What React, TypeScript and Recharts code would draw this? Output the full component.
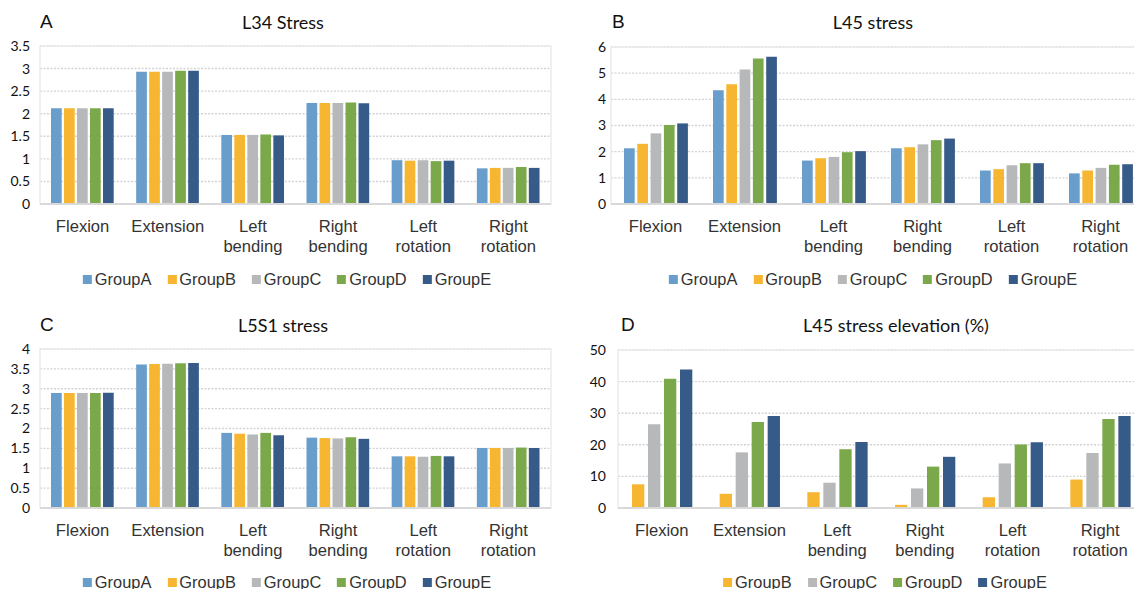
import { BarChart, Bar, XAxis, YAxis, CartesianGrid, ReferenceArea } from "recharts";

const categories = ["Flexion", "Extension", "Left bending", "Right bending", "Left rotation", "Right rotation"];
const groups = ["GroupA", "GroupB", "GroupC", "GroupD", "GroupE"];

// A: L34 stress
const l34GroupA = [2.12, 2.93, 1.53, 2.24, 0.97, 0.79];
const l34GroupB = [2.12, 2.93, 1.53, 2.24, 0.96, 0.8];
const l34GroupC = [2.12, 2.93, 1.53, 2.24, 0.97, 0.8];
const l34GroupD = [2.12, 2.95, 1.54, 2.25, 0.95, 0.82];
const l34GroupE = [2.12, 2.95, 1.52, 2.23, 0.96, 0.8];

// B: L45 stress
const l45GroupA = [2.13, 4.35, 1.66, 2.13, 1.28, 1.17];
const l45GroupB = [2.3, 4.58, 1.75, 2.17, 1.33, 1.28];
const l45GroupC = [2.7, 5.14, 1.8, 2.28, 1.48, 1.38];
const l45GroupD = [3.02, 5.56, 1.98, 2.44, 1.56, 1.5];
const l45GroupE = [3.08, 5.63, 2.02, 2.5, 1.56, 1.52];

// C: L5S1 stress
const l5s1GroupA = [2.89, 3.61, 1.89, 1.77, 1.3, 1.51];
const l5s1GroupB = [2.89, 3.62, 1.87, 1.76, 1.3, 1.51];
const l5s1GroupC = [2.89, 3.63, 1.85, 1.75, 1.29, 1.51];
const l5s1GroupD = [2.89, 3.64, 1.89, 1.78, 1.31, 1.52];
const l5s1GroupE = [2.9, 3.65, 1.83, 1.74, 1.3, 1.51];

// D: L45 stress elevation (%)
const elevGroupB = [7.5, 4.5, 5.0, 1.0, 3.4, 9.0];
const elevGroupC = [26.5, 17.6, 8.0, 6.2, 14.1, 17.4];
const elevGroupD = [40.9, 27.2, 18.6, 13.1, 20.1, 28.2];
const elevGroupE = [43.8, 29.1, 20.9, 16.2, 20.8, 29.1];

const ticksA = [0, 0.5, 1, 1.5, 2, 2.5, 3, 3.5];
const ticksB = [0, 1, 2, 3, 4, 5, 6];
const ticksC = [0, 0.5, 1, 1.5, 2, 2.5, 3, 3.5, 4];
const ticksD = [0, 10, 20, 30, 40, 50];

const COLORS: Record<string, string> = {
  GroupA: "#699DCB",
  GroupB: "#F6B631",
  GroupC: "#B7B8BA",
  GroupD: "#7BA84A",
  GroupE: "#375B88",
};

const SANS = "'Liberation Sans', Arial, sans-serif";
const NUM = "Lato, 'Open Sans', sans-serif";

function CategoryTick({ x, y, payload }: any) {
  const words = String(payload.value).split(" ");
  return (
    <text x={x} y={y} textAnchor="middle" fontFamily={SANS} fontSize={16.6} fill="#333">
      {words.map((w, i) => (
        <tspan key={i} x={x} dy={i === 0 ? 28 : 20}>
          {w}
        </tspan>
      ))}
    </text>
  );
}

type Series = { name: string; values: number[] };

interface PanelProps {
  left: number;
  top: number;
  width: number;
  height: number;
  margin: { top: number; right: number; bottom: number; left: number };
  yWidth: number;
  xHeight: number;
  tickGap: number;
  max: number;
  ticks: number[];
  series: Series[];
  barSize: number;
  barGap: number;
}

function Panel(p: PanelProps) {
  const data = categories.map((c, i) => {
    const row: Record<string, string | number> = { name: c };
    p.series.forEach((s) => (row[s.name] = s.values[i]));
    return row;
  });
  return (
    <div style={{ position: "absolute", left: p.left, top: p.top }}>
      <BarChart width={p.width} height={p.height} data={data} margin={p.margin} barSize={p.barSize} barGap={p.barGap}>
        <ReferenceArea y1={0} y2={p.max} fill="none" stroke="#ECECEC" strokeWidth={1.5} ifOverflow="visible" />
        <CartesianGrid horizontal vertical={false} stroke="#D3D3D3" strokeDasharray="2 1.5" strokeWidth={1.4} />
        <XAxis
          dataKey="name"
          interval={0}
          height={p.xHeight}
          tickLine={false}
          tickSize={0}
          tickMargin={0}
          axisLine={{ stroke: "#D9D9D9", strokeWidth: 2 }}
          tick={<CategoryTick />}
        />
        <YAxis
          width={p.yWidth}
          domain={[0, p.max]}
          ticks={p.ticks}
          interval={0}
          axisLine={false}
          tickLine={false}
          tickSize={0}
          tickMargin={p.tickGap}
          tick={{ fontSize: 14, fill: "#111", fontFamily: NUM }}
        />
        {p.series.map((s) => (
          <Bar key={s.name} dataKey={s.name} fill={COLORS[s.name]} isAnimationActive={false} />
        ))}
      </BarChart>
    </div>
  );
}

function Legend({ cx, cy, items }: { cx: number; cy: number; items: string[] }) {
  return (
    <div
      style={{
        position: "absolute",
        left: cx,
        top: cy - 10,
        transform: "translateX(-50%)",
        display: "flex",
        gap: 16,
        whiteSpace: "nowrap",
        fontFamily: SANS,
        fontSize: 16.4,
        lineHeight: "20px",
        color: "#333",
      }}
    >
      {items.map((g) => (
        <div key={g} style={{ display: "flex", alignItems: "center" }}>
          <span style={{ display: "inline-block", width: 9, height: 9, background: COLORS[g], marginRight: 3 }} />
          {g}
        </div>
      ))}
    </div>
  );
}

function Caption({ x, y, text, size, font, center }: { x: number; y: number; text: string; size: number; font: string; center?: boolean }) {
  return (
    <div
      style={{
        position: "absolute",
        left: x,
        top: y - 12,
        lineHeight: "24px",
        transform: center ? "translateX(-50%)" : undefined,
        whiteSpace: "nowrap",
        fontFamily: font,
        fontSize: size,
        color: "#111",
      }}
    >
      {text}
    </div>
  );
}

export default function App() {
  const seriesA = [
    { name: "GroupA", values: l34GroupA },
    { name: "GroupB", values: l34GroupB },
    { name: "GroupC", values: l34GroupC },
    { name: "GroupD", values: l34GroupD },
    { name: "GroupE", values: l34GroupE },
  ];
  const seriesB = [
    { name: "GroupA", values: l45GroupA },
    { name: "GroupB", values: l45GroupB },
    { name: "GroupC", values: l45GroupC },
    { name: "GroupD", values: l45GroupD },
    { name: "GroupE", values: l45GroupE },
  ];
  const seriesC = [
    { name: "GroupA", values: l5s1GroupA },
    { name: "GroupB", values: l5s1GroupB },
    { name: "GroupC", values: l5s1GroupC },
    { name: "GroupD", values: l5s1GroupD },
    { name: "GroupE", values: l5s1GroupE },
  ];
  const seriesD = [
    { name: "GroupB", values: elevGroupB },
    { name: "GroupC", values: elevGroupC },
    { name: "GroupD", values: elevGroupD },
    { name: "GroupE", values: elevGroupE },
  ];

  return (
    <div style={{ position: "absolute", left: 0, top: 0, width: 1134, height: 589, overflow: "hidden", background: "#fff" }}>
      <Panel
        left={0} top={0} width={570} height={300}
        margin={{ top: 46, right: 19, bottom: 0, left: 6 }}
        yWidth={34} xHeight={96} tickGap={10}
        max={3.5} ticks={ticksA} series={seriesA} barSize={10.7} barGap={2.3}
      />
      <Panel
        left={570} top={0} width={580} height={300}
        margin={{ top: 47, right: 5, bottom: 0, left: 6 }}
        yWidth={35} xHeight={96} tickGap={5}
        max={6} ticks={ticksB} series={seriesB} barSize={10.7} barGap={2.6}
      />
      <Panel
        left={0} top={300} width={570} height={289}
        margin={{ top: 49, right: 19, bottom: 0, left: 6 }}
        yWidth={34} xHeight={81} tickGap={10}
        max={4} ticks={ticksC} series={seriesC} barSize={10.7} barGap={2.3}
      />
      <Panel
        left={570} top={300} width={580} height={289}
        margin={{ top: 50, right: 6, bottom: 0, left: 6 }}
        yWidth={42} xHeight={81} tickGap={12}
        max={50} ticks={ticksD} series={seriesD} barSize={12.3} barGap={3.7}
      />

      <Caption x={40} y={22} text="A" size={19} font={SANS} />
      <Caption x={283} y={22} text="L34 Stress" size={18} font={NUM} center />
      <Caption x={612} y={22} text="B" size={19} font={SANS} />
      <Caption x={873} y={22} text="L45 stress" size={18} font={NUM} center />
      <Caption x={40} y={325} text="C" size={19} font={SANS} />
      <Caption x={283} y={325} text="L5S1 stress" size={18} font={NUM} center />
      <Caption x={621} y={325} text="D" size={19} font={SANS} />
      <Caption x={896} y={325} text="L45 stress elevation (%)" size={18} font={NUM} center />

      <Legend cx={287} cy={279} items={groups} />
      <Legend cx={873} cy={279} items={groups} />
      <Legend cx={287} cy={582} items={groups} />
      <Legend cx={885} cy={582} items={groups.slice(1)} />
    </div>
  );
}
